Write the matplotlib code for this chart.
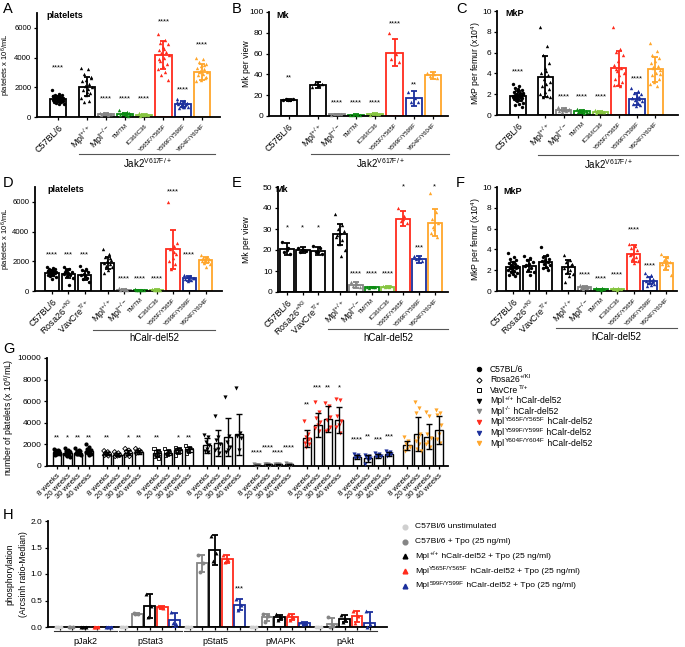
import numpy as np
import matplotlib
matplotlib.use('Agg')
import matplotlib.pyplot as plt
from matplotlib.lines import Line2D
from matplotlib.transforms import blended_transform_factory

plt.rcParams['font.family'] = ['Liberation Sans', 'DejaVu Sans']
plt.rcParams['mathtext.fontset'] = 'custom'
plt.rcParams['mathtext.rm'] = 'Liberation Sans'
plt.rcParams['mathtext.it'] = 'Liberation Sans:italic'
plt.rcParams['mathtext.bf'] = 'Liberation Sans:bold'

BLACK = '#000000'; GREY = '#858585'; DGREEN = '#0b8c12'; LGREEN = '#86c540'
RED = '#ff2b1c'; BLUE = '#1b2f9c'; ORANGE = '#ffa62b'; LGREY = '#cfcfcf'

# ---------------- Panel A : platelets, Jak2 V617F ----------------
abc_labels = ['C57BL/6', r'Mpl$^{\mathrm{+/+}}$', r'Mpl$^{\mathrm{-/-}}$', 'TM/TM', 'IC36/IC36',
              'Y565F/Y565F', 'Y599F/Y599F', 'Y604F/Y604F']
a_mean = [1200, 2050, 200, 200, 150, 4150, 850, 3050]
a_sd = [200, 650, 60, 80, 50, 950, 200, 550]
a_points = [
    [1800, 1550, 1500, 1450, 1400, 1380, 1350, 1300, 1280, 1250, 1220, 1200, 1180, 1150, 1120,
     1100, 1080, 1050, 1000, 980, 950, 900, 850, 1250, 1300, 1150, 1400, 1100, 1000, 1200],
    [3300, 3200, 2900, 2700, 2500, 2400, 2200, 2100, 2000, 1900, 1800, 1600, 1500, 1300, 1100, 1000, 2600, 1700],
    [300, 250, 220, 200, 180, 150, 130, 250, 200],
    [450, 350, 300, 250, 200, 150, 100, 250, 200, 150],
    [250, 200, 180, 150, 120, 100, 200, 150],
    [5600, 5200, 5000, 4900, 4700, 4500, 4400, 4300, 4200, 4000, 3800, 3600, 3400, 3200, 3000, 2800, 2500, 4600, 3900],
    [1200, 1100, 1000, 950, 900, 850, 800, 750, 700, 650, 600, 900, 800, 1000, 700],
    [4000, 3900, 3700, 3600, 3400, 3300, 3200, 3100, 3000, 2900, 2800, 2600, 2500, 2400, 3500, 3000, 2700],
]
a_stars = ['****', '', '****', '****', '****', '****', '****', '****']
a_star_y = [3300, 0, 1200, 1200, 1200, 6400, 1800, 4850]

# ---------------- Panel B : Mk per view ----------------
b_mean = [15.5, 30, 1.5, 1.0, 1.8, 61, 17, 39]
b_sd = [1, 3, 0.6, 0.5, 0.8, 13, 7, 3]
b_points = [
    [15, 15.5, 16, 16.5, 15.2],
    [28, 30, 32, 31],
    [1, 1.5, 2, 1.5],
    [0.7, 1, 1.3, 1],
    [1.2, 1.8, 2.5, 1.8],
    [80, 60, 55, 52],
    [23, 17, 13, 13],
    [41, 40, 38, 37],
]
b_stars = ['**', '', '****', '****', '****', '****', '**', '']
b_star_y = [37, 0, 12.5, 12.5, 12.5, 89, 30, 0]

# ---------------- Panel C : MkP per femur ----------------
c_mean = [1.8, 3.7, 0.5, 0.35, 0.3, 4.5, 1.55, 4.4]
c_sd = [0.5, 2.0, 0.15, 0.12, 0.1, 1.7, 0.55, 1.2]
c_points = [
    [3.0, 2.8, 2.6, 2.4, 2.3, 2.2, 2.1, 2.0, 2.0, 1.9, 1.9, 1.8, 1.8, 1.7, 1.7, 1.6, 1.6, 1.5,
     1.5, 1.4, 1.3, 1.2, 1.1, 1.0, 0.8, 2.5, 1.8, 1.9, 1.7, 2.1],
    [8.5, 6.6, 5.8, 5.0, 4.5, 4.0, 3.8, 3.5, 3.2, 3.0, 2.8, 2.5, 2.2, 2.0, 1.8, 1.7, 1.7, 4.2],
    [0.8, 0.7, 0.6, 0.5, 0.5, 0.4, 0.4, 0.3, 0.6, 0.5],
    [0.6, 0.5, 0.4, 0.35, 0.3, 0.25, 0.2, 0.4, 0.3],
    [0.5, 0.4, 0.35, 0.3, 0.25, 0.2, 0.3],
    [8.5, 6.3, 6.1, 5.8, 5.2, 4.8, 4.5, 4.2, 4.0, 3.8, 3.5, 3.2, 3.0, 2.9, 2.8, 4.4],
    [2.6, 2.3, 2.1, 2.0, 1.8, 1.6, 1.5, 1.4, 1.3, 1.2, 1.1, 1.0, 0.9, 1.6, 1.7],
    [6.9, 6.2, 5.8, 5.5, 5.2, 5.0, 4.7, 4.5, 4.3, 4.0, 3.8, 3.5, 3.2, 3.0, 2.8, 4.6, 3.9],
]
c_stars = ['****', '', '****', '****', '****', '', '****', '']
c_star_y = [4.1, 0, 1.7, 1.7, 1.7, 0, 3.5, 0]

# ---------------- Panels D-F : hCalr-del52 ----------------
def_labels = ['C57BL/6', r'Rosa26$^{\mathrm{+/KI}}$', r'VavCre$^{\mathrm{T/+}}$', r'Mpl$^{\mathrm{+/+}}$',
              r'Mpl$^{\mathrm{-/-}}$', 'TM/TM', 'IC36/IC36', 'Y565F/Y565F', 'Y599F/Y599F', 'Y604F/Y604F']
d_mean = [1200, 1150, 1050, 1900, 100, 70, 80, 2800, 850, 2100]
d_sd = [200, 300, 300, 400, 40, 30, 30, 1300, 150, 200]
d_points = [
    [1600, 1550, 1500, 1450, 1400, 1350, 1300, 1300, 1250, 1250, 1200, 1200, 1150, 1100, 1050, 1000, 950, 800, 1350, 1250, 1150],
    [1600, 1450, 1400, 1300, 1200, 1150, 1100, 1000, 900, 400, 1250],
    [1700, 1500, 1400, 1250, 1150, 1050, 900, 800, 600, 1000],
    [2800, 2500, 2300, 2100, 2000, 1900, 1800, 1700, 1600, 1400, 1200, 2200],
    [200, 150, 120, 100, 80, 60, 150],
    [120, 100, 80, 60, 50, 100],
    [130, 100, 80, 60, 100],
    [6000, 3000, 2800, 2500, 2200, 2000, 1800, 1500, 3200, 2600],
    [1100, 1000, 950, 900, 850, 800, 750, 700, 900],
    [2400, 2300, 2200, 2150, 2100, 2050, 2000, 1900, 1800, 1600, 2200],
]
d_stars = ['****', '***', '***', '', '****', '****', '****', '****', '****', '']
d_star_y = [2450, 2450, 2450, 0, 800, 800, 800, 6700, 2450, 0]

e_mean = [20.5, 20, 19.5, 27.5, 3.5, 2.2, 2.5, 35, 15.5, 33]
e_sd = [3, 1.5, 2, 5, 1.5, 0.3, 0.4, 3.5, 1.5, 6.5]
e_points = [
    [24, 21, 19, 18, 20],
    [21, 20, 19, 19.5, 20],
    [22, 21, 19, 18, 19],
    [37, 32, 30, 29, 28, 26, 25, 23, 20, 17, 27],
    [5, 4, 3, 2.5],
    [2.5, 2.2, 2.0, 2.3],
    [3, 2.5, 2.3, 2.8],
    [40, 36, 34, 33, 35],
    [17, 16, 15.5, 15],
    [47, 38, 35, 33, 30, 28, 26, 31],
]
e_stars = ['*', '*', '*', '', '****', '****', '****', '*', '***', '*']
e_star_y = [30.5, 30.5, 30.5, 0, 8.6, 8.6, 8.6, 50, 21, 50]

f_mean = [2.3, 2.4, 2.8, 2.3, 0.35, 0.15, 0.15, 3.6, 1.0, 2.65]
f_sd = [0.5, 0.6, 0.6, 0.7, 0.12, 0.06, 0.06, 0.8, 0.35, 0.6]
f_points = [
    [3.7, 3.3, 3.1, 3.0, 2.8, 2.7, 2.6, 2.5, 2.4, 2.3, 2.2, 2.2, 2.1, 2.0, 1.9, 1.8, 1.7, 1.6, 1.5, 1.4, 2.4, 2.3],
    [3.4, 3.2, 3.0, 2.8, 2.6, 2.4, 2.2, 2.0, 1.8, 1.5, 2.5],
    [4.2, 3.5, 3.3, 3.1, 3.0, 2.9, 2.8, 2.6, 2.5, 2.3, 2.2, 2.0],
    [3.5, 3.0, 2.8, 2.6, 2.4, 2.2, 2.0, 1.8, 1.6, 1.4, 0.9, 2.5],
    [0.6, 0.5, 0.45, 0.4, 0.35, 0.3, 0.25, 0.2],
    [0.3, 0.25, 0.2, 0.15, 0.1, 0.2],
    [0.3, 0.25, 0.2, 0.15, 0.1, 0.2],
    [4.5, 4.3, 4.1, 3.9, 3.7, 3.5, 3.3, 3.1, 2.9, 2.7, 3.6],
    [1.7, 1.5, 1.4, 1.2, 1.1, 1.0, 0.9, 0.8, 0.7, 0.6, 0.5, 1.0],
    [3.6, 3.3, 3.0, 2.8, 2.7, 2.6, 2.5, 2.3, 1.5, 2.9],
]
f_stars = ['', '', '', '', '****', '****', '****', '****', '****', '']
f_star_y = [0, 0, 0, 0, 1.55, 1.2, 1.55, 5.9, 2.4, 0]

# ---------------- Panel G : platelets over time ----------------
# legend names split as (base, superscript, rest)
g_groups = [('C57BL/6', '', ''), ('Rosa26', '+/KI', ''), ('VavCre', 'T/+', ''),
            ('Mpl', '+/+', ' hCalr-del52'), ('Mpl', '-/-', ' hCalr-del52'),
            ('Mpl', 'Y565F/Y565F', ' hCalr-del52'), ('Mpl', 'Y599F/Y599F', ' hCalr-del52'),
            ('Mpl', 'Y604F/Y604F', ' hCalr-del52')]
g_times = ['8 weeks', '20 weeks', '30 weeks', '40 weeks']
g_mean = [
    [1300, 1200, 1250, 1350],
    [1150, 1050, 1250, 1300],
    [1200, 1250, 1450, 1550],
    [1900, 2100, 2650, 2950],
    [100, 150, 150, 150],
    [2550, 3800, 4350, 4300],
    [850, 700, 950, 1100],
    [1900, 2950, 2700, 3300],
]
g_sd = [
    [150, 250, 200, 250],
    [150, 150, 200, 150],
    [300, 200, 250, 250],
    [650, 1200, 1750, 1900],
    [30, 40, 40, 50],
    [800, 1100, 1200, 1200],
    [200, 300, 200, 200],
    [450, 1600, 1150, 1300],
]
g_points = [
    [[1600, 1500, 1450, 1400, 1350, 1300, 1250, 1200, 1150, 1100, 1050],
     [1700, 1500, 1400, 1300, 1200, 1100, 1000, 900, 800, 1250],
     [1700, 1500, 1400, 1350, 1300, 1250, 1150, 1100, 1000],
     [2000, 1800, 1600, 1500, 1400, 1300, 1250, 1200, 1100, 1050]],
    [[1400, 1300, 1200, 1150, 1100, 1000, 950],
     [1300, 1200, 1100, 1000, 950, 900],
     [1600, 1450, 1350, 1250, 1100, 1000, 900],
     [1600, 1450, 1400, 1300, 1250, 1200]],
    [[1600, 1450, 1300, 1200, 1000, 900, 700],
     [1600, 1450, 1300, 1200, 1100, 1000],
     [1700, 1600, 1500, 1400, 1300, 1000],
     [1900, 1700, 1600, 1500, 1400, 1200]],
    [[2900, 2700, 2200, 1900, 1600, 1400, 1300],
     [4600, 2700, 2400, 2000, 1600, 1500, 1200],
     [6400, 2800, 2200, 1800, 1500, 1300],
     [7200, 3100, 2800, 2600, 1500]],
    [[150, 120, 100, 80, 60, 100],
     [200, 180, 150, 120, 100],
     [220, 180, 150, 120, 100],
     [250, 200, 150, 120, 100]],
    [[4200, 3000, 2700, 2500, 2300, 2100, 2000, 1800],
     [5900, 5000, 4400, 4100, 3800, 3500, 3200],
     [5800, 5600, 4300, 3600, 3300, 3200, 4500],
     [6200, 6100, 4600, 4200, 3800, 3600, 3100]],
    [[1100, 1000, 900, 850, 800, 700],
     [1000, 900, 800, 700, 600, 200],
     [1200, 1100, 1000, 900, 850, 800],
     [1400, 1300, 1200, 1100, 1000, 900]],
    [[2700, 2300, 2000, 1800, 1600, 1400],
     [5900, 5400, 4900, 3000, 2600, 2300, 2000, 1600, 1400],
     [5000, 4600, 3000, 2600, 2200, 2000, 1800],
     [5200, 4900, 4700, 3800, 3000, 2500, 2100]],
]
g_stars = [
    ['**', '*', '**', '**'],
    ['**', '', '*', '**'],
    ['**', '', '*', '**'],
    ['', '', '', ''],
    ['****', '****', '****', '****'],
    ['**', '***', '**', '*'],
    ['****', '**', '***', '***'],
    ['', '', '', ''],
]
g_star_y = [
    [2600, 2600, 2600, 2600],
    [2600, 2600, 2600, 2600],
    [2600, 2600, 2600, 2600],
    [0, 0, 0, 0],
    [1200, 1700, 1200, 1700],
    [5650, 7200, 7200, 7200],
    [2400, 2650, 2400, 2650],
    [0, 0, 0, 0],
]

# ---------------- Panel H : phosphorylation ----------------
h_groups = ['pJak2', 'pStat3', 'pStat5', 'pMAPK', 'pAkt']
h_conditions = [('C57Bl/6 unstimulated', '', ''), ('C57Bl/6 + Tpo (25 ng/ml)', '', ''),
                ('Mpl', '+/+', ' hCalr-del52 + Tpo (25 ng/ml)'),
                ('Mpl', 'Y565F/Y565F', ' hCalr-del52 + Tpo (25 ng/ml)'),
                ('Mpl', '599F/Y599F', ' hCalr-del52 + Tpo (25 ng/ml)')]
h_mean = [
    [0, 0, 0, 0, 0],
    [0, 0.25, 0.40, 0.37, 0.13],
    [0, 1.20, 1.45, 1.28, 0.42],
    [0, 0.18, 0.18, 0.19, 0.07],
    [0, 0.05, 0.16, 0.20, 0.07],
]
h_sd = [
    [0, 0, 0, 0, 0],
    [0, 0.02, 0.23, 0.03, 0.14],
    [0, 0.16, 0.28, 0.08, 0.10],
    [0, 0.06, 0.05, 0.05, 0.03],
    [0, 0.12, 0.07, 0.10, 0.22],
]
h_points = [
    [[0, 0, 0], [0, 0, 0], [0, 0, 0], [0, 0, 0], [0, 0, 0]],
    [[0, 0, 0], [0.27, 0.25, 0.24], [0.62, 0.40, 0.18], [0.39, 0.36, 0.37], [0.28, 0.05, 0.07]],
    [[0, 0, 0], [1.36, 1.20, 1.04], [1.72, 1.40, 1.24], [1.35, 1.27, 1.22], [0.52, 0.42, 0.32]],
    [[0, 0, 0], [0.24, 0.20, 0.10], [0.24, 0.18, 0.13], [0.24, 0.19, 0.14], [0.10, 0.07, 0.05]],
    [[0, 0, 0], [0.18, 0.02, 0.0], [0.23, 0.15, 0.10], [0.30, 0.20, 0.08], [0.30, 0.05, 0.0]],
]
h_stars = [['', '', '', '', ''], ['', '', '', '', ''], ['', '', '', '', '***'],
           ['', '', '', '', ''], ['', '', '', '', '']]
h_star_y = [[0] * 5, [0] * 5, [0, 0, 0, 0, 0.72], [0] * 5, [0] * 5]

# =====================================================================
W, H = 685, 647
fig = plt.figure(figsize=(W / 100, H / 100), dpi=100)
renderer = fig.canvas.get_renderer()


def add_ax(l, t, r, b):
    ax = fig.add_axes([l / W, 1 - b / H, (r - l) / W, (b - t) / H])
    ax.box_px = (l, t, r, b)
    for s in ('top', 'right'):
        ax.spines[s].set_visible(False)
    for s in ('left', 'bottom'):
        ax.spines[s].set_linewidth(1.3)
    ax.tick_params(axis='both', direction='out', length=2.5, width=0.9, labelsize=6, pad=1.5)
    ax.set_facecolor('none')
    return ax


def yfrac(ax, ypx):
    l, t, r, b = ax.box_px
    return (b - ypx) / (b - t)


def xfrac(ax, xpx):
    l, t, r, b = ax.box_px
    return (xpx - l) / (r - l)


def spread(n, w):
    k = np.arange(n)
    if n == 1:
        return np.zeros(1)
    return ((k * 0.6180339887) % 1.0 - 0.5) * w


def draw_bar(ax, x, m, s, p, c, mk, width, msize, lw, cap, barcolor=None, hollow=False):
    bc = c if barcolor is None else barcolor
    ax.bar(x, m, width=width, facecolor='white', edgecolor=bc, linewidth=lw, zorder=2)
    p = np.asarray(p, float)
    xs = x + spread(len(p), width * 0.72)
    if hollow:
        ax.scatter(xs, p, s=msize, marker=mk, facecolors='none', edgecolors=c, linewidths=0.6, zorder=3, clip_on=False)
    else:
        ax.scatter(xs, p, s=msize, marker=mk, color=c, linewidths=0, zorder=3, clip_on=False)
    ax.errorbar(x, m, yerr=s, fmt='none', ecolor=bc, elinewidth=lw, capsize=cap, capthick=lw, zorder=4)


def put_stars(ax, xs, texts, ys, fs=5.5):
    for x, t, y in zip(xs, texts, ys):
        if t:
            ax.text(x, y, t, ha='center', va='center', fontsize=fs, clip_on=False, zorder=5)


def group_line(ax, x0, x1, ypx_line, ypx_text, text, fs=7, color='#555555'):
    tr = blended_transform_factory(ax.transData, ax.transAxes)
    yl = yfrac(ax, ypx_line)
    yt = yfrac(ax, ypx_text)
    ax.plot([x0, x1], [yl, yl], transform=tr, color=color, lw=0.8, clip_on=False)
    ax.text((x0 + x1) / 2, yt, text, transform=tr, ha='center', va='center', fontsize=fs, clip_on=False)


def panel_letter(xpx, ypx, s):
    fig.text(xpx / W, 1 - ypx / H, s, fontsize=10.5, ha='left', va='top')


def inner_title(ax, xpx, ypx, s):
    ax.text(xfrac(ax, xpx), yfrac(ax, ypx), s, transform=ax.transAxes, fontsize=6.5,
            fontweight='bold', ha='left', va='center')


def set_xlabels(ax, pos, labels, sizes):
    ax.set_xticks(pos)
    ax.set_xticklabels(labels, rotation=45, ha='right', rotation_mode='anchor')
    for tl, fs in zip(ax.get_xticklabels(), sizes):
        tl.set_fontsize(fs)
    ax.tick_params(axis='x', pad=2)


def rich_text(xpx, ypx, parts, fs):
    base, sup, rest = parts
    t = fig.text(xpx / W, 1 - ypx / H, base, fontsize=fs, ha='left', va='center')
    x = t.get_window_extent(renderer).x1
    if sup:
        t = fig.text((x + 0.3) / W, 1 - (ypx - 2.6) / H, sup, fontsize=fs * 0.74, ha='left', va='center')
        x = t.get_window_extent(renderer).x1
    if rest:
        fig.text((x + 0.5) / W, 1 - ypx / H, rest, fontsize=fs, ha='left', va='center')


abc_colors = [BLACK, BLACK, GREY, DGREEN, LGREEN, RED, BLUE, ORANGE]
abc_markers = ['o'] + ['^'] * 7
abc_pos = [0, 1.5, 2.5, 3.5, 4.5, 5.5, 6.5, 7.5]
abc_sizes = [6.5, 6.5, 6.5, 4.3, 4.3, 4.3, 4.3, 4.3]

def_colors = [BLACK, BLACK, BLACK, BLACK, GREY, DGREEN, LGREEN, RED, BLUE, ORANGE]
def_markers = ['o', 'o', 'o'] + ['^'] * 7
def_pos = [0, 1, 2, 3.4, 4.4, 5.4, 6.4, 7.4, 8.4, 9.4]
def_sizes = [6.5, 6.5, 6.5, 6.5, 6.5, 4.3, 4.3, 4.3, 4.3, 4.3]


def bar_panel(ax, pos, means, sds, pts, colors, markers, width, msize=6, lw=1.3, cap=2.5):
    for x, m, s, p, c, mk in zip(pos, means, sds, pts, colors, markers):
        draw_bar(ax, x, m, s, p, c, mk, width, msize, lw, cap)


# ---------- A ----------
axA = add_ax(37, 13, 220, 117)
bar_panel(axA, abc_pos, a_mean, a_sd, a_points, abc_colors, abc_markers, 0.84)
put_stars(axA, abc_pos, a_stars, a_star_y)
axA.set_xlim(-1.1, 8.45); axA.set_ylim(0, 7000)
axA.set_yticks([0, 2000, 4000, 6000])
axA.tick_params(axis='y', labelsize=5.6)
set_xlabels(axA, abc_pos, abc_labels, abc_sizes)
axA.set_ylabel(r'platelets x 10$^{6}$/mL', fontsize=5.5)
axA.yaxis.set_label_coords(xfrac(axA, 12.8), 0.5)
inner_title(axA, 46, 16, 'platelets')
group_line(axA, abc_pos[1] - 0.4, abc_pos[-1] + 0.7, 154, 163, r'Jak2$^{\mathrm{V617F/+}}$')
panel_letter(3, 2, 'A')

# ---------- B ----------
axB = add_ax(269, 12, 448, 116)
bar_panel(axB, abc_pos, b_mean, b_sd, b_points, abc_colors, abc_markers, 0.84)
put_stars(axB, abc_pos, b_stars, b_star_y)
axB.set_xlim(-1.03, 8.28); axB.set_ylim(0, 100)
axB.set_yticks([0, 20, 40, 60, 80, 100])
set_xlabels(axB, abc_pos, abc_labels, abc_sizes)
axB.set_ylabel('Mk per view', fontsize=6.2)
axB.yaxis.set_label_coords(xfrac(axB, 251), 0.5)
inner_title(axB, 276, 15, 'Mk')
group_line(axB, abc_pos[1] - 0.35, abc_pos[-1] + 0.85, 154, 163, r'Jak2$^{\mathrm{V617F/+}}$')
panel_letter(232, 2, 'B')

# ---------- C ----------
axC = add_ax(497, 11, 678, 115)
bar_panel(axC, abc_pos, c_mean, c_sd, c_points, abc_colors, abc_markers, 0.84)
put_stars(axC, abc_pos, c_stars, c_star_y)
axC.set_xlim(-1.15, 8.74); axC.set_ylim(0, 10)
axC.set_yticks([0, 2, 4, 6, 8, 10])
set_xlabels(axC, abc_pos, abc_labels, abc_sizes)
axC.set_ylabel(r'MkP per femur (x10$^{4}$)', fontsize=6.2)
axC.yaxis.set_label_coords(xfrac(axC, 483), 0.5)
inner_title(axC, 505, 13, 'MkP')
group_line(axC, abc_pos[1] - 0.4, abc_pos[-1] + 1.25, 155, 164, r'Jak2$^{\mathrm{V617F/+}}$')
panel_letter(456, 2, 'C')

# ---------- D ----------
axD = add_ax(35, 187, 222, 291)
bar_panel(axD, def_pos, d_mean, d_sd, d_points, def_colors, def_markers, 0.82)
put_stars(axD, def_pos, d_stars, d_star_y)
axD.set_xlim(-1.04, 10.4); axD.set_ylim(0, 7000)
axD.set_yticks([0, 2000, 4000, 6000])
axD.tick_params(axis='y', labelsize=5.6)
set_xlabels(axD, def_pos, def_labels, def_sizes)
axD.set_ylabel(r'platelets x 10$^{6}$/mL', fontsize=5.5)
axD.yaxis.set_label_coords(xfrac(axD, 12.8), 0.5)
inner_title(axD, 47, 190, 'platelets')
group_line(axD, def_pos[3] - 0.9, def_pos[-1] + 0.6, 330, 338, 'hCalr-del52')
panel_letter(3, 176, 'D')

# ---------- E ----------
axE = add_ax(278, 187, 448, 292)
bar_panel(axE, def_pos, e_mean, e_sd, e_points, def_colors, def_markers, 0.88)
put_stars(axE, def_pos, e_stars, e_star_y)
axE.set_xlim(-0.57, 10.25); axE.set_ylim(0, 50)
axE.set_yticks([0, 10, 20, 30, 40, 50])
set_xlabels(axE, def_pos, def_labels, def_sizes)
axE.set_ylabel('Mk per view', fontsize=6.2)
axE.yaxis.set_label_coords(xfrac(axE, 251), 0.5)
inner_title(axE, 275, 190, 'Mk')
group_line(axE, def_pos[3] - 0.76, def_pos[-1] + 0.83, 329, 338, 'hCalr-del52')
panel_letter(232, 176, 'E')

# ---------- F ----------
axF = add_ax(497, 187, 677, 291)
bar_panel(axF, def_pos, f_mean, f_sd, f_points, def_colors, def_markers, 0.82)
put_stars(axF, def_pos, f_stars, f_star_y)
axF.set_xlim(-0.98, 10.06); axF.set_ylim(0, 10)
axF.set_yticks([0, 2, 4, 6, 8, 10])
set_xlabels(axF, def_pos, def_labels, def_sizes)
axF.set_ylabel(r'MkP per femur (x10$^{4}$)', fontsize=6.2)
axF.yaxis.set_label_coords(xfrac(axF, 483), 0.5)
inner_title(axF, 503, 192, 'MkP')
group_line(axF, def_pos[3] - 0.74, def_pos[-1] + 0.67, 328, 337, 'hCalr-del52')
panel_letter(456, 176, 'F')

# ---------- G ----------
axG = add_ax(47, 358, 448, 466)
g_colors = [BLACK, BLACK, BLACK, BLACK, GREY, RED, BLUE, ORANGE]
g_markers = ['o', 'D', 's', 'v', 'v', 'v', 'v', 'v']
g_hollow = [False, True, True, False, False, False, False, False]
g_msize = [9, 6, 6, 9, 9, 9, 9, 9]
GSTEP = 4.75
g_ticks, g_ticklabels = [], []
for gi in range(len(g_groups)):
    xs = [gi * GSTEP + k for k in range(len(g_times))]
    for k, x in enumerate(xs):
        draw_bar(axG, x, g_mean[gi][k], g_sd[gi][k], g_points[gi][k], g_colors[gi], g_markers[gi],
                 0.78, g_msize[gi], 1.0, 2.0, barcolor=BLACK, hollow=g_hollow[gi])
    put_stars(axG, xs, g_stars[gi], g_star_y[gi], fs=5.5)
    g_ticks += xs
    g_ticklabels += g_times
axG.set_xlim(-0.95, 37.1); axG.set_ylim(0, 10000)
axG.set_yticks(np.arange(0, 10001, 2000))
axG.set_xticks(g_ticks)
axG.set_xticklabels(g_ticklabels, rotation=45, ha='right', rotation_mode='anchor', fontsize=5.6)
axG.tick_params(axis='x', pad=2)
axG.set_ylabel(r'number of platelets (x 10$^{6}$/mL)', fontsize=6.2)
axG.yaxis.set_label_coords(xfrac(axG, 16), 0.45)
panel_letter(3, 342, 'G')

# legend G
for i, (parts, c, mk, hol) in enumerate(zip(g_groups, g_colors, g_markers, g_hollow)):
    ypx = 369 + i * 10.6
    ms = 3.2 if mk in ('o', 'v') else 2.6
    fig.add_artist(Line2D([479 / W], [1 - ypx / H], marker=mk, markersize=ms, color=c, linestyle='none',
                          markerfacecolor='none' if hol else c, markeredgewidth=0.7))
    rich_text(490, ypx, parts, 6.2)

# ---------- H ----------
axH = add_ax(48, 521, 387, 627)
h_colors = [LGREY, GREY, BLACK, RED, BLUE]
h_markers = ['o', 'o', '^', '^', '^']
HSTEP = 5.2
h_ticks = []
for gi in range(len(h_groups)):
    xs = [gi * HSTEP + k for k in range(len(h_conditions))]
    for k, x in enumerate(xs):
        draw_bar(axH, x, h_mean[gi][k], h_sd[gi][k], h_points[gi][k], h_colors[k], h_markers[k],
                 0.86, 8, 1.3, 2.2)
    put_stars(axH, xs, h_stars[gi], h_star_y[gi], fs=5.5)
    h_ticks += xs
    group_line(axH, xs[0] - 0.5, xs[-1] + 0.6, 631, 642, h_groups[gi], fs=6.5, color='#333333')
axH.set_xlim(-0.96, 26.2); axH.set_ylim(0, 2.0)
axH.set_yticks([0, 0.5, 1.0, 1.5, 2.0])
axH.set_yticklabels(['0.0', '0.5', '1.0', '1.5', '2.0'])
axH.set_xticks(h_ticks)
axH.set_xticklabels([])
axH.set_ylabel('phosphorylation\n(Arcsinh ratio-Median)', fontsize=6.2, linespacing=1.6)
axH.yaxis.set_label_coords(xfrac(axH, 28), 0.5)
panel_letter(3, 508, 'H')

# legend H
for i, (parts, c, mk) in enumerate(zip(h_conditions, h_colors, h_markers)):
    ypx = 527 + i * 14.7
    fig.add_artist(Line2D([405 / W], [1 - ypx / H], marker=mk, markersize=3.4, color=c, linestyle='none'))
    rich_text(415, ypx, parts, 6.1)

fig.savefig('out.png', dpi=100)
